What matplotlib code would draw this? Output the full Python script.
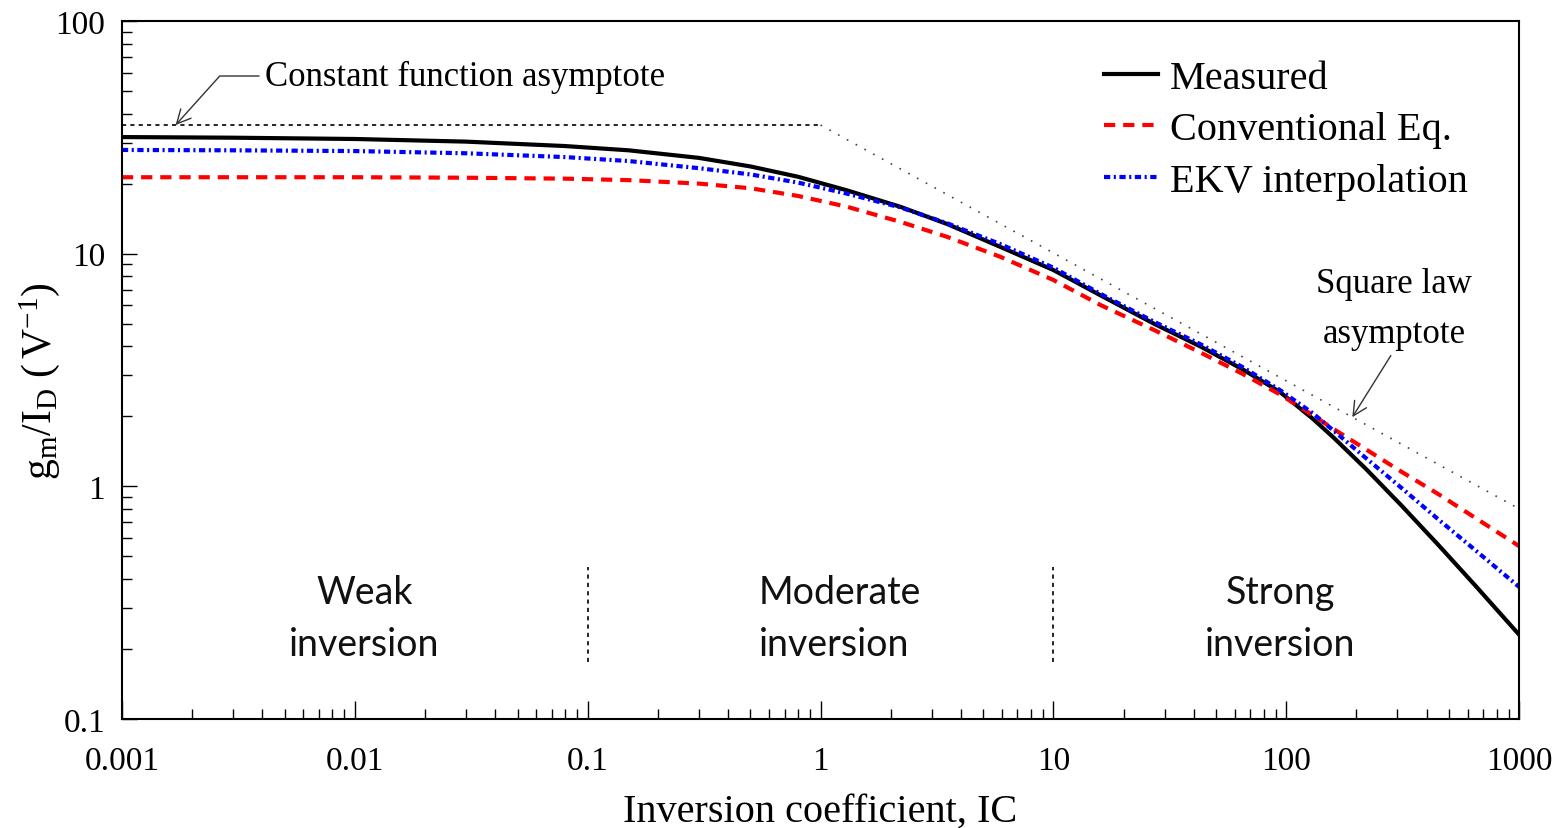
import numpy as np
import matplotlib
matplotlib.use('Agg')
import matplotlib.pyplot as plt

plt.rcParams['font.family'] = 'serif'
plt.rcParams['font.serif'] = ['Liberation Serif', 'DejaVu Serif']
plt.rcParams['mathtext.fontset'] = 'stix'

# inversion coefficient sample points
ic = [0.001, 0.003, 0.01, 0.03, 0.08, 0.15, 0.3, 0.5, 0.8, 1.3, 2.2, 3.5, 5.9,
      10, 16, 27, 43, 65, 94, 130, 160, 220, 310, 450, 650, 1000]

# gm/ID (1/V)
measured = [31.7, 31.5, 31.1, 30.3, 29.0, 27.8, 25.8, 23.7, 21.4, 18.7, 15.9, 13.4, 10.7,
            8.5, 6.6, 5.0, 3.98, 3.18, 2.54, 1.95, 1.615, 1.186, 0.833, 0.559, 0.373, 0.230]
conventional = [21.3, 21.3, 21.3, 21.2, 21.0, 20.7, 20.0, 19.1, 17.7, 15.9, 13.7, 11.8, 9.7,
                7.7, 6.0, 4.7, 3.75, 3.04, 2.48, 2.02, 1.76, 1.44, 1.16, 0.925, 0.73, 0.553]
ekv = [27.9, 27.8, 27.6, 27.0, 26.0, 25.0, 23.3, 21.9, 20.2, 18.1, 15.8, 13.5, 11.0,
       8.7, 6.7, 5.1, 4.07, 3.25, 2.59, 2.06, 1.73, 1.32, 0.99, 0.72, 0.53, 0.369]

# weak inversion constant and square law asymptotes
asym_x = [0.001, 1, 1000]
asym_y = [35.7, 35.7, 0.8]

# region boundaries and labels
bound_x = [0.1, 10]
bound_y = [0.176, 0.45]
region_x = [0.011, 1.21, 94]
region_labels = ['Weak\ninversion', 'Moderate\ninversion', 'Strong\ninversion']
region_align = ['center', 'left', 'center']

fig = plt.figure(figsize=(15.63, 8.29), dpi=100)
ax = fig.add_axes([0.078, 0.1315, 0.894, 0.842])

ax.plot(asym_x[:2], asym_y[:2], color='black', lw=1.2, dashes=(2.5, 2.5))
ax.plot(asym_x[1:], asym_y[1:], color='#444444', lw=1.2, dashes=(1, 5))

ax.plot(ic, measured, color='black', lw=3, label='Measured')
ax.plot(ic, conventional, color='#ff0000', lw=3, dashes=(2.7, 1.9), label='Conventional Eq.')
ax.plot(ic, ekv, color='#0000ff', lw=3, dashes=(1.5, 0.85, 0.5, 0.85), label='EKV interpolation')

for bx in bound_x:
    ax.plot([bx, bx], bound_y, color='black', lw=1.2, dashes=(2.5, 2.5))

for rx, lab, al in zip(region_x, region_labels, region_align):
    ax.text(rx, 0.272, lab, ha='center', va='center', multialignment=al,
            family='Lato', fontsize=27, linespacing=1.55, color='#111111')

ax.set_xscale('log')
ax.set_yscale('log')
ax.set_xlim(0.001, 1000)
ax.set_ylim(0.1, 100)

ax.set_xticks([0.001, 0.01, 0.1, 1, 10, 100, 1000])
ax.set_xticklabels(['0.001', '0.01', '0.1', '1', '10', '100', '1000'])
ax.set_yticks([0.1, 1, 10, 100])
ax.set_yticklabels(['0.1', '1', '10', '100'])

ax.tick_params(which='both', direction='in', top=False, right=False, labelsize=24, width=1.0)
ax.tick_params(axis='x', which='major', length=13, pad=19)
ax.tick_params(axis='y', which='major', length=11, pad=12)
ax.tick_params(which='minor', length=7)
for s in ax.spines.values():
    s.set_linewidth(1.5)

ax.set_xlabel('Inversion coefficient, IC', fontsize=29, labelpad=12)
ax.set_ylabel(r'$\mathregular{g_m/I_D\ (\,V^{-1})}$', fontsize=30)
ax.yaxis.set_label_coords(-0.043, 0.486)

# annotation for the constant asymptote
ax.annotate('Constant function asymptote', xy=(0.0017, asym_y[0]), xytext=(0.0041, 58),
            fontsize=25, ha='left', va='center',
            arrowprops=dict(arrowstyle='->', color='#333333', lw=1.0,
                            connectionstyle='angle,angleA=0,angleB=48,rad=0',
                            relpos=(0, 0.5), shrinkB=0))

# annotation for the square law asymptote
tip_x = 192
tip_y = 10 ** np.interp(np.log10(tip_x), np.log10(asym_x), np.log10(asym_y))
ax.annotate('Square law\nasymptote', xy=(tip_x, tip_y), xytext=(290, 5.8),
            fontsize=25, ha='center', va='center', linespacing=1.7,
            arrowprops=dict(arrowstyle='->', color='#333333', lw=1.0,
                            relpos=(0.5, 0), shrinkB=0))

leg = ax.legend(loc='upper right', bbox_to_anchor=(0.975, 0.968), borderaxespad=0,
                frameon=False, fontsize=29, handlelength=1.35,
                handletextpad=0.3, labelspacing=0.36)

fig.savefig('out.png', dpi=100)
